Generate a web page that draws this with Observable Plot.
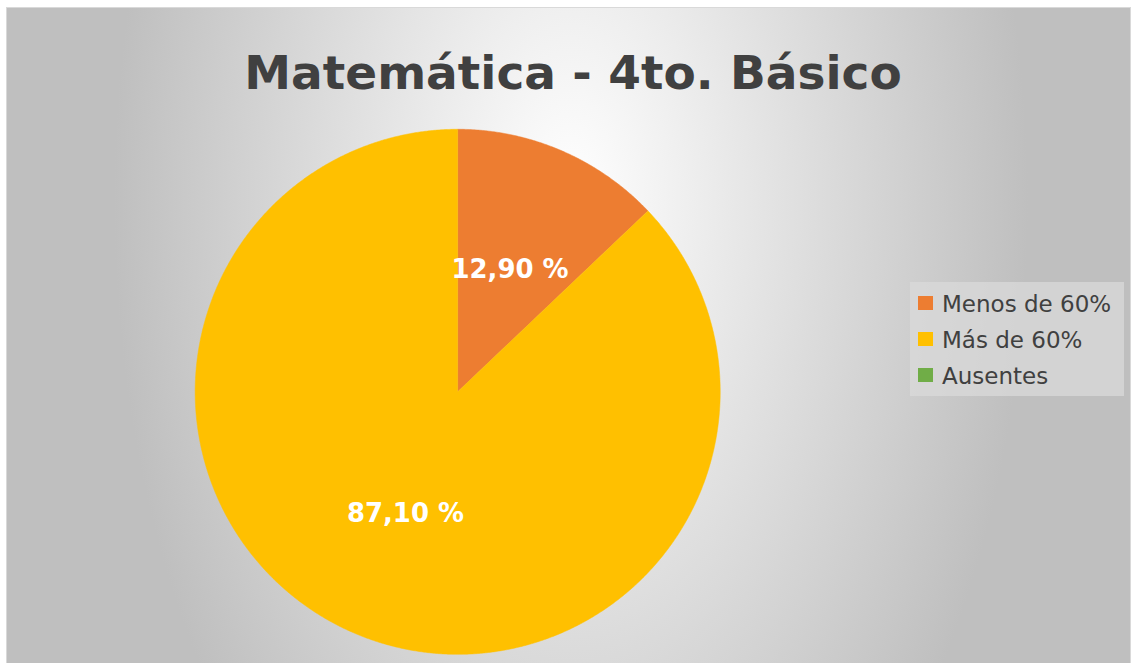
<!DOCTYPE html>
<html><head><meta charset="utf-8">
<script src="https://cdn.jsdelivr.net/npm/d3@7"></script>
<script src="https://cdn.jsdelivr.net/npm/@observablehq/plot@0.6"></script>
<style>
html,body{margin:0;padding:0;background:#fff;}
#wrap{position:absolute;left:6px;top:7px;width:1123px;height:655px;border:1px solid #d9d9d9;
 background:#bfbfbf radial-gradient(457px 797px at 564px 193px,#ffffff 0%,#bfbfbf 100%,#bfbfbf 100%) no-repeat;overflow:hidden;
 font-family:"DejaVu Sans",sans-serif;}
#title{position:absolute;left:0;width:1132px;top:37px;text-align:center;font-weight:bold;font-size:47px;color:#404040;}
#chart{position:absolute;left:-7px;top:-8px;}
#legend{position:absolute;left:903px;top:274px;width:214px;height:114px;background:rgba(217,217,217,0.75);}
.li{position:absolute;left:8px;height:24px;font-size:23px;color:#404040;line-height:24px;}
.sw{position:absolute;left:0;top:4px;width:15px;height:14px;}
.lt{position:absolute;left:24px;top:0;white-space:nowrap;}
</style></head>
<body>
<div id="wrap">
<div id="title">Matemática - 4to. Básico</div>
<div id="chart"></div>
<div id="legend"></div>
</div>
<script>
const categories = ["Menos de 60%", "Más de 60%", "Ausentes"];
const values = [12.90, 87.10, 0];
const labels = ["12,90 %", "87,10 %", ""];
const colors = ["#ED7D31", "#FFC000", "#70AD47"];

const pie = d3.pie().sort(null).value(d => d)(values);
const polys = [];
pie.forEach((s, i) => {
  if (s.endAngle - s.startAngle <= 0) return;
  polys.push({k: categories[i], x: 0, y: 0});
  const n = Math.max(2, Math.ceil((s.endAngle - s.startAngle) / 0.005));
  for (let j = 0; j <= n; j++) {
    const a = s.startAngle + (s.endAngle - s.startAngle) * j / n;
    polys.push({k: categories[i], x: Math.sin(a), y: Math.cos(a)});
  }
  polys.push({k: categories[i], x: 0, y: 0});
});
const lab = pie.map((s, i) => {
  const a = (s.startAngle + s.endAngle) / 2;
  return {t: labels[i], x: 0.505 * Math.sin(a), y: 0.505 * Math.cos(a)};
}).filter(d => d.t);

const plot = Plot.plot({
  width: 1132, height: 663,
  margin: 0,
  x: {domain: [-1, 1], range: [195, 721], axis: null},
  y: {domain: [-1, 1], range: [655, 129], axis: null},
  color: {domain: categories, range: colors},
  style: {background: "transparent", overflow: "visible"},
  marks: [
    Plot.line(polys, {x: "x", y: "y", z: "k", fill: "k", stroke: "k", strokeWidth: 0.5, curve: "linear"}),
    Plot.text(lab, {x: "x", y: "y", text: "t", fill: "white", fontSize: 26, fontWeight: "bold", fontFamily: "DejaVu Sans"})
  ]
});
document.getElementById("chart").appendChild(plot);

const lg = document.getElementById("legend");
categories.forEach((c, i) => {
  const d = document.createElement("div");
  d.className = "li"; d.style.top = (10 + i * 36) + "px";
  d.innerHTML = `<div class="sw" style="background:${colors[i]}"></div><div class="lt">${c}</div>`;
  lg.appendChild(d);
});
</script>
</body></html>
